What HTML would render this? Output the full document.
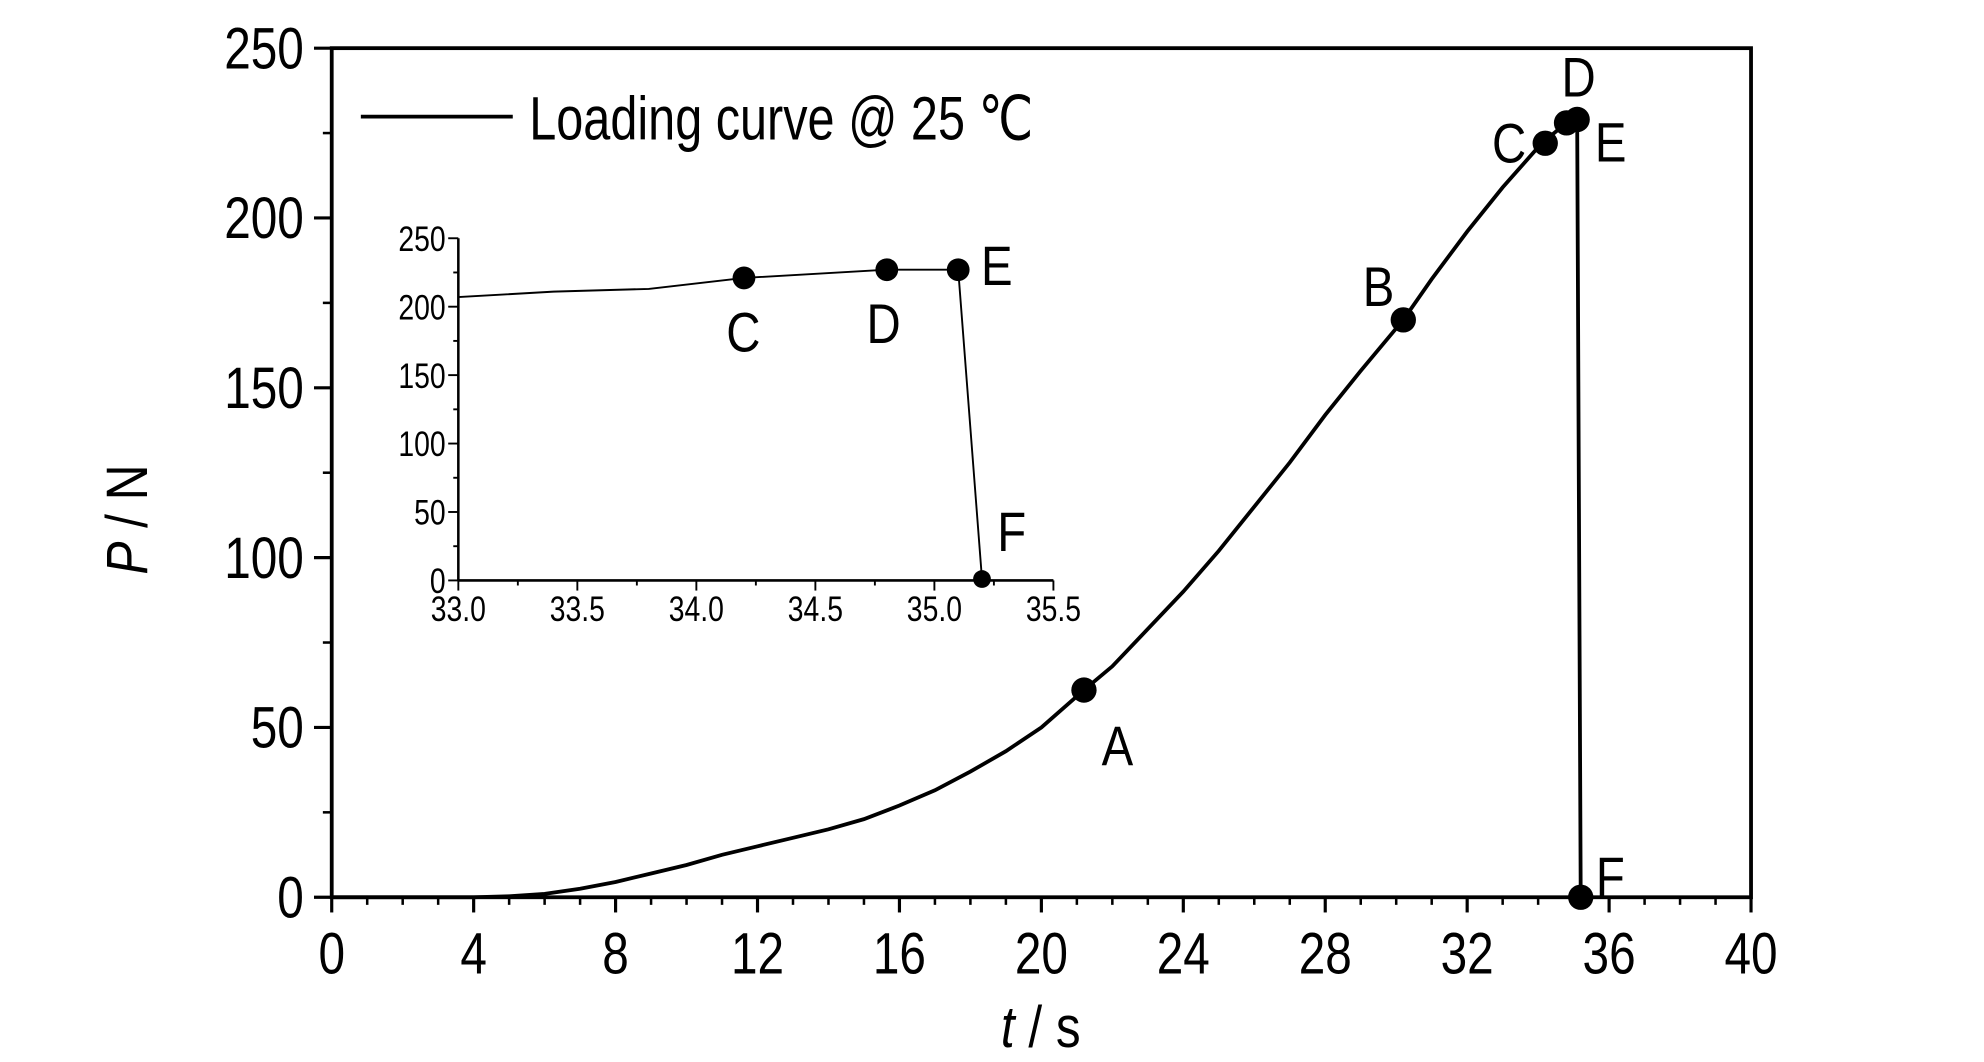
<!DOCTYPE html>
<html><head><meta charset="utf-8"><style>html,body{margin:0;padding:0;background:#fff}svg{display:block}</style></head>
<body>
<svg id="c" width="1984" height="1062" viewBox="0 0 1567 838" preserveAspectRatio="none" xmlns="http://www.w3.org/2000/svg" font-family="'Liberation Sans',sans-serif"></svg>
<script>
const mainT=[0,2,4,5,6,7,8,9,10,11,12,13,14,15,16,17,18,19,20,21.2,22,23,24,25,26,27,28,29,30.2,31,32,33,34.1,34.8,35.1,35.2];
const mainP=[0,0,0,0.3,1,2.5,4.5,7,9.5,12.5,15,17.5,20,23,27,31.5,37,43,50,61,68,79,90,102,115,128,142,155,170,182,196,209,222,228,229,0];
const mainMarkT=[21.2,30.2,34.2,34.8,35.1,35.2];
const mainMarkP=[61,170,222,228,229,0];
const mainMarkLbl=["A","B","C","D","E","F"];
const insetT=[33,33.4,33.8,34.2,34.8,35.1,35.2];
const insetP=[207,211,213,221,227,227,1];
const insetMarkT=[34.2,34.8,35.1,35.2];
const insetMarkP=[221,227,227,1];
const insetMarkLbl=["C","D","E","F"];
const xTicks=[0,4,8,12,16,20,24,28,32,36,40];
const yTicks=[0,50,100,150,200,250];
const ixTicks=["33.0","33.5","34.0","34.5","35.0","35.5"];
const iyTicks=[0,50,100,150,200,250];

const svg=document.getElementById('c');const NS='http://www.w3.org/2000/svg';
function el(tag,a,name,txt){const e=document.createElementNS(NS,tag);for(const k in a)e.setAttribute(k,a[k]);


if(txt!==undefined)e.textContent=txt;svg.appendChild(e);return e;}
const X=t=>262+(t/40)*(1383-262), Y=p=>708-(p/250)*(708-38);
const IX=t=>362+(t-33)/2.5*(832-362), IY=p=>458-(p/250)*(458-188);

el('rect',{x:262,y:38,width:1121,height:670,fill:'none',stroke:'#000','stroke-width':3},'plot-frame');
xTicks.forEach((t,i)=>{el('line',{x1:X(t),x2:X(t),y1:708,y2:720,stroke:'#000','stroke-width':2.5},'x-tick');
 if(i<xTicks.length-1){for(let k=1;k<4;k++){const tt=t+k;el('line',{x1:X(tt),x2:X(tt),y1:708,y2:714,stroke:'#000','stroke-width':2},'x-minor-tick');}}
 el('text',{x:X(t),y:768,'font-size':46,'text-anchor':'middle',transform:`translate(${X(t)},0) scale(0.82,1) translate(${-X(t)},0)`},'x-tick-label',t);});
yTicks.forEach((p,i)=>{el('line',{x1:248,x2:262,y1:Y(p),y2:Y(p),stroke:'#000','stroke-width':2.5},'y-tick');
 if(i<yTicks.length-1)el('line',{x1:255,x2:262,y1:Y(p+25),y2:Y(p+25),stroke:'#000','stroke-width':2},'y-minor-tick');
 el('text',{x:240,y:Y(p)+16,'font-size':46,'text-anchor':'end',transform:`translate(240,0) scale(0.82,1) translate(-240,0)`},'y-tick-label',p);});
el('text',{x:0,y:0,'font-size':46,'text-anchor':'middle',transform:'translate(116,410) rotate(-90) scale(0.85,1)'},'y-axis-title').innerHTML='<tspan font-style="italic">P</tspan> / N';
el('text',{x:0,y:0,'font-size':46,'text-anchor':'middle',transform:'translate(822,826) scale(0.85,1)'},'x-axis-title').innerHTML='<tspan font-style="italic">t</tspan> / s';
el('line',{x1:285,x2:405,y1:92,y2:92,stroke:'#000','stroke-width':3},'legend-line');
el('text',{x:0,y:0,'font-size':48,transform:'translate(418,110) scale(0.8,1)'},'legend-label','Loading curve @ 25 \u2103');

el('polyline',{points:mainT.map((t,i)=>X(t)+','+Y(mainP[i])).join(' '),fill:'none',stroke:'#000','stroke-width':3},'loading-curve');
const mOff={A:[14,44],B:[-32,-26],C:[-42,0],D:[-4,-36],E:[14,18],F:[12,-16]};
mainMarkT.forEach((t,i)=>{el('circle',{cx:X(t),cy:Y(mainMarkP[i]),r:10,fill:'#000'},'marker-'+mainMarkLbl[i]);
 const o=mOff[mainMarkLbl[i]];el('text',{x:0,y:0,'font-size':44,transform:`translate(${X(t)+o[0]},${Y(mainMarkP[i])+o[1]+15}) scale(0.85,1)`},'marker-label-'+mainMarkLbl[i],mainMarkLbl[i]);});

el('line',{x1:362,x2:362,y1:188,y2:458,stroke:'#000','stroke-width':2},'inset-y-axis');
el('line',{x1:362,x2:832,y1:458,y2:458,stroke:'#000','stroke-width':2},'inset-x-axis');
ixTicks.forEach((s,i)=>{const t=parseFloat(s);el('line',{x1:IX(t),x2:IX(t),y1:458,y2:466,stroke:'#000','stroke-width':1.5},'inset-x-tick');
 if(i<ixTicks.length-1)el('line',{x1:IX(t+0.25),x2:IX(t+0.25),y1:458,y2:462,stroke:'#000','stroke-width':1.5},'inset-x-minor-tick');
 el('text',{x:0,y:0,'font-size':28,'text-anchor':'middle',transform:`translate(${IX(t)},490) scale(0.8,1)`},'inset-x-tick-label',s);});
iyTicks.forEach((p,i)=>{el('line',{x1:354,x2:362,y1:IY(p),y2:IY(p),stroke:'#000','stroke-width':1.5},'inset-y-tick');
 if(i<iyTicks.length-1)el('line',{x1:358,x2:362,y1:IY(p+25),y2:IY(p+25),stroke:'#000','stroke-width':1.5},'inset-y-minor-tick');
 el('text',{x:0,y:0,'font-size':28,'text-anchor':'end',transform:`translate(352,${IY(p)+10}) scale(0.8,1)`},'inset-y-tick-label',p);});
el('polyline',{points:insetT.map((t,i)=>IX(t)+','+IY(insetP[i])).join(' '),fill:'none',stroke:'#000','stroke-width':1.5},'inset-curve');
const iOff={C:[-14,58],D:[-16,58],E:[18,12],F:[12,-22]};
insetMarkT.forEach((t,i)=>{el('circle',{cx:IX(t),cy:IY(insetMarkP[i]),r:i==3?7:9,fill:'#000'},'inset-marker-'+insetMarkLbl[i]);
 const o=iOff[insetMarkLbl[i]];el('text',{x:0,y:0,'font-size':44,transform:`translate(${IX(t)+o[0]},${IY(insetMarkP[i])+o[1]}) scale(0.85,1)`},'inset-marker-label-'+insetMarkLbl[i],insetMarkLbl[i]);});
</script>
</body></html>
